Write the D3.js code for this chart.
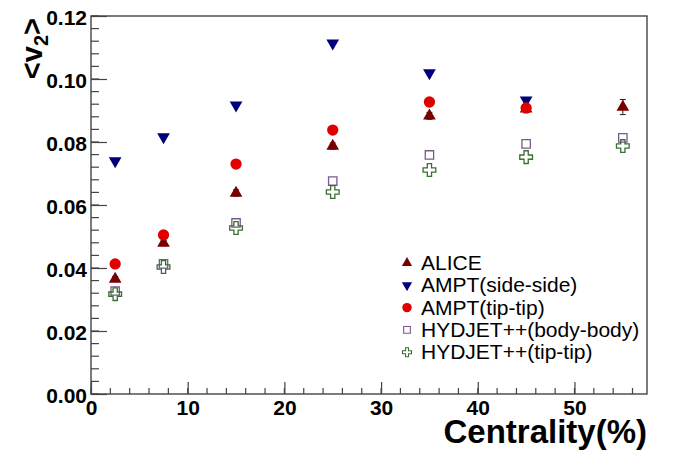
<!DOCTYPE html>
<html>
<head>
<meta charset="utf-8">
<script src="https://cdn.jsdelivr.net/npm/d3@7"></script>
<style>
  body { margin: 0; background: #fff; }
  svg { display: block; font-family: "Liberation Sans", Arial, sans-serif; }
</style>
</head>
<body>
<div id="chart"></div>
<script>
// centrality bin centres (%)
const centrality = [2.5, 7.5, 15, 25, 35, 45, 55];

const alice = [0.0365, 0.0479, 0.0638, 0.0787, 0.0883, 0.0905, 0.0911];
const aliceErr = [0.0008, 0.0008, 0.0010, 0.0010, 0.0011, 0.0012, 0.0024];
const amptSide = [0.0740, 0.0816, 0.0917, 0.1114, 0.1019, 0.0933];
const amptTip = [0.0413, 0.0505, 0.0730, 0.0838, 0.0927, 0.0908];
const hydBody = [0.0327, 0.0413, 0.0543, 0.0676, 0.0759, 0.0794, 0.0813];
const hydTip = [0.0317, 0.0403, 0.0527, 0.0641, 0.0711, 0.0752, 0.0787];

const xTicks = [0, 10, 20, 30, 40, 50];
const yTicks = [0, 0.02, 0.04, 0.06, 0.08, 0.10, 0.12];

const W = 674, H = 452;
const margin = { top: 16, right: 27, bottom: 58, left: 91 };
const width = W - margin.left - margin.right,
  height = H - margin.top - margin.bottom;

const svg = d3.select("#chart")
  .append("svg")
  .attr("width", W)
  .attr("height", H);

const g = svg.append("g")
  .attr("transform", `translate(${margin.left}, ${margin.top})`);

const x = d3.scaleLinear().domain([0, 57.5]).range([0, width]);
const y = d3.scaleLinear().domain([0, 0.12]).range([height, 0]);

const axisColor = "#444";

// frame
g.append("rect")
  .attr("width", width)
  .attr("height", height)
  .attr("fill", "none")
  .attr("stroke", axisColor)
  .attr("stroke-width", 1.4);

// minor ticks
g.selectAll(".xminor")
  .data(d3.range(0, 57.5, 2))
  .join("line")
  .attr("x1", d => x(d)).attr("x2", d => x(d))
  .attr("y1", height).attr("y2", height - 6)
  .attr("stroke", axisColor).attr("stroke-width", 1.2);

g.selectAll(".yminor")
  .data(d3.range(0, 0.1201, 0.004))
  .join("line")
  .attr("y1", d => y(d)).attr("y2", d => y(d))
  .attr("x1", 0).attr("x2", 8)
  .attr("stroke", axisColor).attr("stroke-width", 1.2);

// x axis
const xAxis = g.append("g")
  .attr("transform", `translate(0, ${height})`)
  .call(d3.axisBottom(x).tickValues(xTicks).tickSize(-12).tickPadding(6)
    .tickFormat(d3.format("d")));
xAxis.select(".domain").remove();
xAxis.selectAll(".tick line").attr("stroke", axisColor).attr("stroke-width", 1.2);
xAxis.selectAll(".tick text")
  .attr("font-size", 21).attr("font-weight", "bold").attr("fill", "#000")
  .attr("font-family", "Liberation Sans, Arial, sans-serif");

// y axis
const yAxis = g.append("g")
  .call(d3.axisLeft(y).tickValues(yTicks).tickSize(-16).tickPadding(4)
    .tickFormat(d3.format(".2f")));
yAxis.select(".domain").remove();
yAxis.selectAll(".tick line").attr("stroke", axisColor).attr("stroke-width", 1.2);
yAxis.selectAll(".tick text")
  .attr("font-size", 21).attr("font-weight", "bold").attr("fill", "#000")
  .attr("font-family", "Liberation Sans, Arial, sans-serif")
  .attr("dy", "0.4em");

// axis titles
svg.append("text")
  .attr("x", W - margin.right)
  .attr("y", 443)
  .attr("text-anchor", "end")
  .attr("font-size", 33)
  .attr("font-weight", "bold")
  .text("Centrality(%)");

const yTitle = svg.append("text")
  .attr("transform", "translate(42, 18) rotate(-90)")
  .attr("text-anchor", "end")
  .attr("font-size", 29)
  .attr("font-weight", "bold");
yTitle.append("tspan").text("<v");
yTitle.append("tspan").attr("font-size", 20).attr("dy", 6).text("2");
yTitle.append("tspan").attr("dy", -6).text(">");

// marker shapes
const sym = {
  up: d3.symbol().type(d3.symbolTriangle).size(70),
  down: d3.symbol().type(d3.symbolTriangle).size(70),
  circle: d3.symbol().type(d3.symbolCircle).size(100),
  square: d3.symbol().type(d3.symbolSquare).size(70),
  cross: d3.symbol().type(d3.symbolCross).size(90)
};

const series = [
  { name: "ALICE", values: alice, shape: "up", fill: "#780000", stroke: "none" },
  { name: "AMPT(side-side)", values: amptSide, shape: "down", fill: "#00007a", stroke: "none" },
  { name: "AMPT(tip-tip)", values: amptTip, shape: "circle", fill: "#e00000", stroke: "none" },
  { name: "HYDJET++(body-body)", values: hydBody, shape: "square", fill: "none", stroke: "#7a5a8c" },
  { name: "HYDJET++(tip-tip)", values: hydTip, shape: "cross", fill: "none", stroke: "#3b6e34" }
];

function place(s, px, py) {
  const rot = s.shape === "down" ? " rotate(180)" : "";
  return `translate(${px}, ${py})${rot}`;
}

// ALICE error bars
g.selectAll(".err")
  .data(alice.map((v, i) => ({ c: centrality[i], v: v, e: aliceErr[i] })))
  .join("g")
  .each(function(d) {
    const e = d3.select(this);
    e.append("line")
      .attr("x1", x(d.c)).attr("x2", x(d.c))
      .attr("y1", y(d.v - d.e)).attr("y2", y(d.v + d.e))
      .attr("stroke", "#222").attr("stroke-width", 1);
    [d.v - d.e, d.v + d.e].forEach(t => {
      e.append("line")
        .attr("x1", x(d.c) - 3).attr("x2", x(d.c) + 3)
        .attr("y1", y(t)).attr("y2", y(t))
        .attr("stroke", "#222").attr("stroke-width", 1);
    });
  });

series.forEach(s => {
  g.selectAll(null)
    .data(s.values.map((v, i) => ({ c: centrality[i], v: v })))
    .join("path")
    .attr("d", sym[s.shape]())
    .attr("transform", d => place(s, x(d.c), y(d.v)))
    .attr("fill", s.fill)
    .attr("stroke", s.stroke)
    .attr("stroke-width", 1.3);
});

// legend
const legend = svg.append("g");
series.forEach((s, i) => {
  const ly = 263 + i * 22.3;
  legend.append("path")
    .attr("d", d3.symbol().type(sym[s.shape].type()).size(s.shape === "circle" ? 70 : 45)())
    .attr("transform", place(s, 407, ly))
    .attr("fill", s.fill)
    .attr("stroke", s.stroke)
    .attr("stroke-width", 1.1);
  legend.append("text")
    .attr("x", 421)
    .attr("y", ly + 7)
    .attr("font-size", 21)
    .attr("fill", "#000")
    .text(s.name);
});
</script>
</body>
</html>
